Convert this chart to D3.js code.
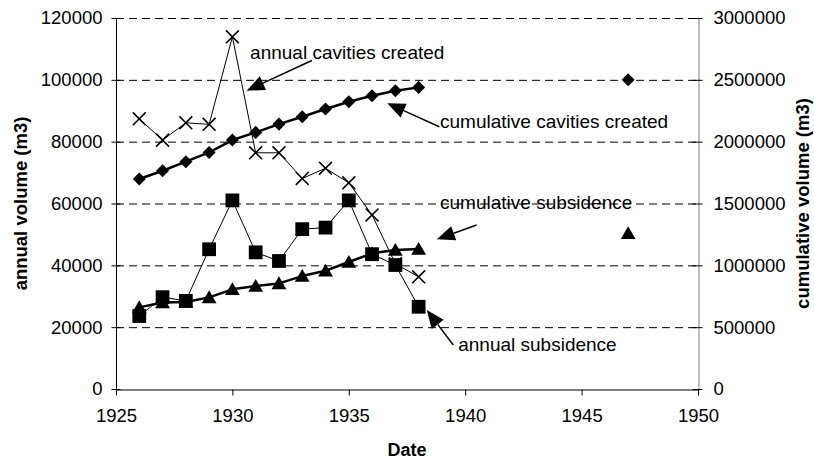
<!DOCTYPE html>
<html>
<head>
<meta charset="utf-8">
<script src="https://cdn.jsdelivr.net/npm/d3@7"></script>
<style>
    body { margin: 0; background: #fff; }
    text { font-family: "Liberation Sans", Arial, sans-serif; fill: #000; }
</style>
</head>
<body>
<script>
//chart data (1939-1946 missing, so the 1947 points stand alone)
var years = [1926, 1927, 1928, 1929, 1930, 1931, 1932, 1933, 1934, 1935, 1936, 1937, 1938, 1947];
var annualCavities = [87400, 80500, 86100, 85600, 113900, 76400, 76400, 68100, 71400, 66700, 56300, 40500, 36300, null];
var annualSubsidence = [23600, 29700, 28500, 45200, 61000, 44200, 41400, 51700, 52200, 61000, 43600, 40100, 26600, null];
var cumulativeCavities = [1698000, 1765000, 1838000, 1913000, 2013000, 2075000, 2142000, 2201000, 2264000, 2323000, 2371000, 2412000, 2439000, 2500000];
var cumulativeSubsidence = [660000, 700000, 703000, 741000, 806000, 833000, 854000, 913000, 956000, 1027000, 1097000, 1124000, 1132000, 1260000];

var xTicks = [1925, 1930, 1935, 1940, 1945, 1950];
var leftTicks = [0, 20000, 40000, 60000, 80000, 100000, 120000];
var rightTicks = [0, 500000, 1000000, 1500000, 2000000, 2500000, 3000000];

//callout labels, anchored in (year, annual volume) units
var labels = ["annual cavities created", "cumulative cavities created", "cumulative subsidence", "annual subsidence"];
var labelAt = [[1930.76, 106640], [1938.92, 84520], [1938.92, 58120], [1939.70, 12390]];
var arrowFrom = [[1933.41, 106250], [1938.89, 84840], [1940.49, 53050], [1939.49, 14230]];
var arrowTo = [[1930.61, 96480], [1936.65, 92410], [1938.78, 48420], [1938.35, 25550]];

window.onload = drawChart();

function drawChart(){

    var width = 814,
        height = 461;

    //plot frame
    var left = 116, right = 698, top = 18, bottom = 389;

    var svg = d3.select("body")
        .append("svg")
        .attr("width", width)
        .attr("height", height);

    svg.append("rect")
        .attr("width", width)
        .attr("height", height)
        .attr("fill", "#fff");

    var x = d3.scaleLinear().domain([1925, 1950]).range([left, right]);
    var yL = d3.scaleLinear().domain([0, 120000]).range([bottom, top]);
    var yR = d3.scaleLinear().domain([0, 3000000]).range([bottom, top]);

    //dashed gridlines
    svg.append("g")
        .selectAll("line")
        .data(leftTicks.slice(1))
        .enter()
        .append("line")
        .attr("x1", left)
        .attr("x2", right)
        .attr("y1", function(d){ return yL(d) + 0.5; })
        .attr("y2", function(d){ return yL(d) + 0.5; })
        .attr("stroke", "#000")
        .attr("stroke-width", 1)
        .attr("stroke-dasharray", "8,5");

    //axes
    var fmt = d3.format("d");

    var xAxis = svg.append("g")
        .attr("transform", "translate(0," + (bottom + 0.5) + ")")
        .call(d3.axisBottom(x).tickValues(xTicks).tickFormat(fmt).tickSize(6).tickSizeOuter(0).tickPadding(13));

    var leftAxis = svg.append("g")
        .attr("transform", "translate(" + (left + 0.5) + ",0)")
        .call(d3.axisLeft(yL).tickValues(leftTicks).tickFormat(fmt).tickSize(5).tickSizeOuter(0).tickPadding(9));
    leftAxis.selectAll(".tick line").attr("x2", -5).attr("x1", 4);
    leftAxis.select(".domain").attr("d", "M0," + top + "V" + (bottom + 6));

    var rightAxis = svg.append("g")
        .attr("transform", "translate(" + (right + 0.5) + ",0)")
        .call(d3.axisRight(yR).tickValues(rightTicks).tickFormat(fmt).tickSize(4).tickSizeOuter(0).tickPadding(11));
    rightAxis.selectAll(".tick line").attr("x1", -6);

    [xAxis, leftAxis, rightAxis].forEach(function(a){
        a.selectAll("text").style("font-size", "18.5px").attr("fill", "#000");
        a.selectAll("line").attr("stroke", "#000");
        a.select(".domain").attr("stroke", "#000");
    });
    rightAxis.select(".domain").attr("stroke", "#808080");

    //axis titles
    svg.append("text")
        .attr("x", (left + right) / 2)
        .attr("y", 456)
        .attr("text-anchor", "middle")
        .style("font-size", "18px")
        .style("font-weight", "bold")
        .text("Date");

    svg.append("text")
        .attr("transform", "translate(27," + (top + bottom) / 2 + ") rotate(-90)")
        .attr("text-anchor", "middle")
        .style("font-size", "18.5px")
        .style("font-weight", "bold")
        .text("annual volume (m3)");

    svg.append("text")
        .attr("transform", "translate(809," + (top + bottom) / 2 + ") rotate(-90)")
        .attr("text-anchor", "middle")
        .style("font-size", "18.5px")
        .style("font-weight", "bold")
        .text("cumulative volume (m3)");

    //series
    var series = [
        {values: cumulativeSubsidence, y: yR, width: 2.5, marker: "triangle"},
        {values: cumulativeCavities, y: yR, width: 2.5, marker: "diamond"},
        {values: annualCavities, y: yL, width: 1, marker: "cross"},
        {values: annualSubsidence, y: yL, width: 1, marker: "square"}
    ];

    var symbols = {
        triangle: d3.symbol().type(d3.symbolTriangle).size(95),
        diamond: d3.symbol().type(d3.symbolSquare).size(85),
        square: d3.symbol().type(d3.symbolSquare).size(190),
        cross: d3.symbol().type(d3.symbolTimes).size(110)
    };

    series.forEach(function(s){
        var pts = years.map(function(yr, i){ return {year: yr, value: s.values[i]}; })
            .filter(function(d){ return d.value != null; });

        //break the line where years are missing
        var segments = [[]];
        pts.forEach(function(d, i){
            if (i > 0 && d.year - pts[i - 1].year > 1) segments.push([]);
            segments[segments.length - 1].push(d);
        });

        var line = d3.line()
            .x(function(d){ return x(d.year); })
            .y(function(d){ return s.y(d.value); });

        svg.append("g")
            .selectAll("path")
            .data(segments.filter(function(seg){ return seg.length > 1; }))
            .enter()
            .append("path")
            .attr("d", line)
            .attr("fill", "none")
            .attr("stroke", "#000")
            .attr("stroke-width", s.width)
            .attr("stroke-linejoin", "round");

        svg.append("g")
            .selectAll("path")
            .data(pts)
            .enter()
            .append("path")
            .attr("d", symbols[s.marker])
            .attr("transform", function(d){
                var t = "translate(" + x(d.year) + "," + s.y(d.value) + ")";
                if (s.marker == "diamond") t += " rotate(45)";
                if (s.marker == "triangle") t += " translate(0,1.5)";
                return t;
            })
            .attr("fill", s.marker == "cross" ? "none" : "#000")
            .attr("stroke", "#000")
            .attr("stroke-width", s.marker == "cross" ? 1.6 : 0);
    });

    //callouts with filled arrowheads
    labels.forEach(function(txt, i){
        var tx = x(arrowFrom[i][0]), ty = yL(arrowFrom[i][1]),
            px = x(arrowTo[i][0]), py = yL(arrowTo[i][1]);
        var len = Math.sqrt((px - tx) * (px - tx) + (py - ty) * (py - ty)),
            ux = (px - tx) / len, uy = (py - ty) / len;
        var bx = px - ux * 18, by = py - uy * 18;

        svg.append("line")
            .attr("x1", tx).attr("y1", ty)
            .attr("x2", bx).attr("y2", by)
            .attr("stroke", "#000")
            .attr("stroke-width", 1.5);

        svg.append("path")
            .attr("d", "M" + px + "," + py +
                "L" + (bx - uy * 7.5) + "," + (by + ux * 7.5) +
                "L" + (bx + uy * 7.5) + "," + (by - ux * 7.5) + "Z")
            .attr("fill", "#000");

        svg.append("text")
            .attr("x", x(labelAt[i][0]))
            .attr("y", yL(labelAt[i][1]))
            .style("font-size", "19px")
            .text(txt);
    });
};
</script>
</body>
</html>
